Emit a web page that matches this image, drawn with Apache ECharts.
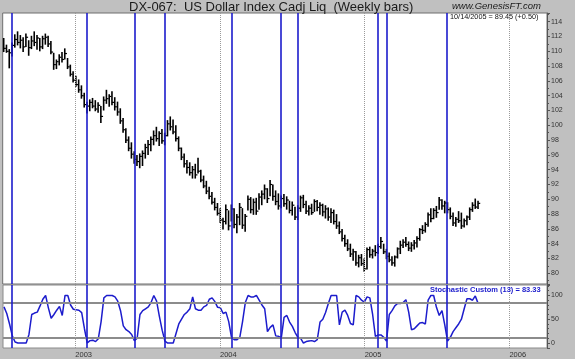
<!DOCTYPE html>
<html>
<head>
<meta charset="utf-8">
<script src="https://cdn.jsdelivr.net/npm/echarts@6/dist/echarts.min.js"></script>
<style>
  html, body { margin: 0; padding: 0; background: #c0c0c0; }
  #chart { width: 575px; height: 359px; }
</style>
</head>
<body>
<div id="chart"></div>
<script>
// ---- data (weekly bars, first bar week ending 2002-07-05) ----
const firstWeek = '2002-07-05';
const highs = [
  111.8,110.9,110.3,111.2,112.3,112.7,112.2,111.9,112.4,111.5,
  112.1,112.7,112.2,111.8,112.1,112.4,112.1,111.4,109.8,108.9,
  109.6,109.9,110.4,109.1,108.2,107.3,106.7,106.2,105.4,104.4,
  103.2,103.5,103.7,103.4,103.1,102.6,103.9,104.8,104.2,104.6,
  103.8,103.2,102.3,101.0,99.6,98.5,97.7,96.5,96.0,96.2,
  96.6,97.5,98.0,98.5,99.3,99.8,99.2,99.5,99.0,100.7,
  101.2,100.8,100.0,98.5,97.0,96.2,95.3,95.0,94.5,94.8,
  95.6,94.0,93.2,92.5,91.7,91.0,90.2,89.5,88.8,87.5,
  89.3,88.5,89.3,88.8,88.0,89.5,88.8,88.0,90.5,90.3,
  90.1,90.2,90.8,91.2,92.0,91.5,92.6,92.0,91.2,90.8,
  90.5,90.7,90.4,89.8,89.7,89.0,89.2,90.5,90.6,89.8,
  89.2,89.4,90.0,89.9,89.6,89.4,89.2,88.9,88.8,88.6,
  88.0,87.0,86.0,85.2,84.6,84.0,83.3,83.0,82.5,82.6,
  82.0,83.5,83.6,83.3,83.8,84.0,84.9,84.0,83.3,82.8,
  82.3,82.4,83.5,84.4,84.6,84.9,84.3,84.2,84.5,85.0,
  86.1,86.5,86.9,88.2,88.8,88.8,89.1,90.3,90.0,89.8,
  89.6,88.9,88.2,87.6,88.4,88.2,87.4,87.8,88.9,89.6,
  90.1,89.8
];
const lows = [
  109.9,109.8,107.7,109.3,110.5,110.8,110.4,109.9,110.6,109.4,
  110.3,110.7,110.2,110.0,110.3,110.9,110.6,109.6,107.5,107.6,
  108.1,108.5,108.9,107.6,106.6,105.8,105.2,104.4,103.6,102.4,
  101.6,101.9,102.3,101.9,101.7,100.3,102.0,102.9,102.5,102.7,
  102.0,101.3,100.2,99.0,97.6,96.5,95.5,94.8,94.5,94.2,
  94.5,95.5,96.0,96.5,97.3,97.8,97.2,97.5,97.3,98.5,
  99.3,98.8,97.8,96.5,95.3,94.3,93.5,93.2,92.8,92.8,
  93.5,92.3,91.5,90.7,90.0,89.3,88.5,87.8,86.8,85.9,
  86.6,85.8,87.0,86.1,85.4,86.5,86.0,85.6,88.5,88.1,
  87.9,87.9,88.6,89.2,90.0,89.5,90.4,89.8,89.2,88.6,
  88.8,89.0,88.6,88.1,87.8,87.2,87.2,88.3,88.8,88.0,
  87.8,87.9,88.3,88.4,87.9,87.7,87.4,87.1,86.8,86.6,
  86.0,85.3,84.3,83.6,83.0,82.2,81.7,81.0,80.8,81.0,
  80.2,80.5,82.1,82.0,82.3,82.6,83.3,82.6,81.9,81.5,
  81.0,80.9,82.0,82.6,83.4,83.6,83.0,82.9,83.2,83.5,
  84.4,85.3,85.5,86.3,86.9,87.3,87.5,88.6,88.6,88.1,
  88.1,87.3,86.4,86.3,86.8,86.0,86.2,86.5,87.2,88.3,
  88.7,88.7
];
const closes = [
  110.4,110.0,109.8,110.8,111.6,111.2,111.5,110.6,111.9,110.5,
  111.4,111.2,111.8,110.6,111.7,111.9,111.0,109.9,108.2,108.6,
  109.2,108.9,109.7,107.9,106.9,106.1,105.5,104.8,104.0,102.8,
  102.6,103.1,102.6,102.2,102.7,101.2,103.4,103.6,103.9,103.1,
  102.5,101.8,100.6,99.4,98.0,96.9,96.1,95.4,95.1,95.8,
  96.2,97.0,97.4,98.1,98.6,98.2,98.9,97.9,98.6,100.2,
  99.8,99.1,98.2,96.9,95.7,94.8,94.3,93.6,94.0,93.3,
  93.8,92.6,91.8,91.1,90.4,89.6,88.9,88.1,87.2,87.0,
  88.6,86.4,88.7,86.6,87.6,88.9,86.5,87.7,90.0,88.6,
  89.6,88.4,90.3,90.7,91.4,90.1,92.0,90.4,89.7,89.1,
  90.1,89.4,89.9,88.5,89.2,87.6,88.8,90.2,89.3,88.4,
  88.8,88.2,89.7,88.9,89.2,88.3,88.7,87.6,88.2,87.0,
  86.4,85.6,84.7,84.0,83.3,82.6,82.9,81.4,82.1,81.3,
  80.6,83.2,82.5,83.0,82.8,83.6,84.3,82.9,82.3,81.8,
  81.4,82.2,83.3,83.8,84.2,83.9,83.4,83.8,84.1,84.7,
  85.9,85.8,86.6,87.9,87.4,88.5,88.2,89.9,89.1,89.5,
  88.6,87.7,86.8,87.3,87.1,86.4,87.1,87.6,88.6,89.2,
  88.95,89.45
];
const stoch = [
  76,62,40,15,2,0,0,0,0,18,
  60,63,65,78,92,100,74,52,60,69,
  77,58,100,100,80,71,70,69,64,30,
  0,5,6,3,9,45,95,100,100,100,
  97,88,68,36,28,24,18,5,10,60,
  68,72,76,85,100,88,56,27,4,0,
  0,0,20,40,50,60,65,72,97,72,
  69,69,76,79,92,95,87,75,74,62,
  65,45,12,7,7,12,45,85,100,97,
  97,100,90,80,72,24,33,38,15,14,
  11,54,58,44,35,22,12,10,0,3,
  4,5,3,7,44,50,64,83,100,100,
  100,38,65,69,58,41,38,100,97,90,
  86,97,95,60,14,17,17,12,4,60,
  68,78,83,83,85,91,65,28,30,36,
  42,43,40,90,100,100,75,58,68,38,
  4,12,24,32,40,50,72,93,93,90,
  99,83.33
];
const signalDates = ['2002-07-26','2003-01-31','2003-05-30','2003-08-15','2004-01-30',
                     '2004-06-04','2004-07-16','2005-02-04','2005-02-25','2005-07-29'];
const yearTicks = [2003, 2004, 2005, 2006];
const stochLevels = [84, 12];
const lastDateLabel = '10/14/2005';

// ---- helpers ----
function addDays(s, n) {
  const d = new Date(s + 'T00:00:00Z');
  d.setUTCDate(d.getUTCDate() + n);
  return d.toISOString().slice(0, 10);
}
function toYear(s) {
  const d = new Date(s + 'T00:00:00Z');
  const y = d.getUTCFullYear();
  const a = Date.UTC(y, 0, 1), b = Date.UTC(y + 1, 0, 1);
  return y + (d.getTime() - a) / (b - a);
}
const weekDates = highs.map((_, i) => addDays(firstWeek, 7 * i));
const xs = weekDates.map(toYear);
const isMult = (v, m) => Math.abs(v / m - Math.round(v / m)) < 1e-6;

const FONT = "'Liberation Sans', Arial, sans-serif";
const BLUE = '#1c1ccc';
const n = closes.length;
const chg = closes[n - 1] - closes[n - 2];
const priceLabel = lastDateLabel + ' = ' + closes[n - 1].toFixed(2) + ' (' + (chg >= 0 ? '+' : '') + chg.toFixed(2) + ')';
const stochLabel = 'Stochastic Custom (13) = ' + stoch[n - 1].toFixed(2);

const yearLines = yearTicks.map(y => ({ xAxis: y, lineStyle: { color: '#9a9a9a', type: 'dotted', width: 1 } }));
const blueLines = signalDates.map(d => ({ xAxis: toYear(d), lineStyle: { color: BLUE, type: 'solid', width: 1.6 } }));
const levelLines = stochLevels.map(v => ({ yAxis: v, lineStyle: { color: '#8c8c8c', type: 'solid', width: 2 } }));

const markCommon = { symbol: ['none', 'none'], silent: true, animation: false, label: { show: false } };

const chart = echarts.init(document.getElementById('chart'), null, { renderer: 'canvas' });
const option = {
  backgroundColor: '#c0c0c0',
  animation: false,
  textStyle: { fontFamily: FONT },
  title: [
    { text: 'DX-067:  US Dollar Index Cadj Liq  (Weekly bars)', left: 129, top: 1, padding: 0,
      textStyle: { fontFamily: FONT, fontSize: 13, fontWeight: 'normal', color: '#1a1a1a' } },
    { text: 'www.GenesisFT.com', left: 452, top: 1, padding: 0,
      textStyle: { fontFamily: FONT, fontSize: 9.5, fontStyle: 'italic', fontWeight: 'normal', color: '#1a1a1a' } },
    { text: priceLabel, left: 450, top: 13.5, padding: 0, z: 10,
      textStyle: { fontFamily: FONT, fontSize: 7.3, fontWeight: 'normal', color: '#111' } },
    { text: stochLabel, left: 430, top: 285.5, padding: 0, z: 10,
      textStyle: { fontFamily: FONT, fontSize: 7.5, fontWeight: 'bold', color: BLUE } }
  ],
  grid: [
    { left: 2.7, right: 28, top: 13, height: 271, show: true, backgroundColor: '#ffffff', borderColor: '#6e6e6e', borderWidth: 1 },
    { left: 2.7, right: 28, top: 285, height: 63.3, show: true, backgroundColor: '#ffffff', borderColor: '#8a8a8a', borderWidth: 1 }
  ],
  xAxis: [
    { gridIndex: 0, type: 'value', min: 2002.5, max: 2006.26, interval: 0.25,
      axisLine: { show: false }, axisTick: { show: false }, axisLabel: { show: false }, splitLine: { show: false } },
    { gridIndex: 1, type: 'value', min: 2002.5, max: 2006.26, interval: 0.25,
      axisLine: { show: false }, axisTick: { show: false }, splitLine: { show: false },
      axisLabel: { show: true, fontSize: 7.5, color: '#333', align: 'left', margin: 3, fontFamily: FONT,
        formatter: v => isMult(v, 1) ? String(Math.round(v)) : '' } }
  ],
  yAxis: [
    { gridIndex: 0, type: 'value', position: 'right', min: 78.55, max: 115.18, splitNumber: 18,
      axisLine: { show: true, lineStyle: { color: '#555' } },
      axisTick: { show: true, length: 3, lineStyle: { color: '#555' } },
      minorTick: { show: true, splitNumber: 2, length: 2, lineStyle: { color: '#555' } },
      splitLine: { show: false },
      axisLabel: { fontSize: 7, color: '#333', margin: 4, fontFamily: FONT,
        formatter: v => isMult(v, 2) ? String(Math.round(v)) : '' } },
    { gridIndex: 1, type: 'value', position: 'right', min: -10.5, max: 122, splitNumber: 3,
      axisLine: { show: true, lineStyle: { color: '#555' } },
      axisTick: { show: true, length: 3, lineStyle: { color: '#555' } },
      minorTick: { show: true, splitNumber: 5, length: 2, lineStyle: { color: '#555' } },
      splitLine: { show: false },
      axisLabel: { fontSize: 7, color: '#333', margin: 4, fontFamily: FONT,
        formatter: v => isMult(v, 50) ? String(Math.round(v)) : '' } }
  ],
  series: [
    { // holder for the top panel reference lines
      type: 'line', xAxisIndex: 0, yAxisIndex: 0, silent: true, symbol: 'none', z: 1,
      data: xs.map((x, i) => [x, closes[i]]), lineStyle: { opacity: 0 },
      markLine: Object.assign({}, markCommon, { data: yearLines.concat(blueLines) })
    },
    {
      name: 'DX', type: 'custom', xAxisIndex: 0, yAxisIndex: 0, z: 3,
      data: xs.map((x, i) => [x, highs[i], lows[i], closes[i]]),
      encode: { x: 0, y: [1, 2, 3] },
      renderItem: function (params, api) {
        const x = api.value(0);
        const pH = api.coord([x, api.value(1)]);
        const pL = api.coord([x, api.value(2)]);
        const pC = api.coord([x, api.value(3)]);
        return { type: 'group', children: [
          { type: 'line', shape: { x1: pH[0], y1: pH[1], x2: pL[0], y2: pL[1] }, style: { stroke: '#000', lineWidth: 1.6 } },
          { type: 'line', shape: { x1: pC[0], y1: pC[1], x2: pC[0] + 2.2, y2: pC[1] }, style: { stroke: '#000', lineWidth: 1.2 } }
        ] };
      }
    },
    {
      name: 'Stochastic', type: 'line', xAxisIndex: 1, yAxisIndex: 1, symbol: 'none', z: 3,
      data: xs.map((x, i) => [x, stoch[i]]),
      lineStyle: { color: BLUE, width: 1.5 },
      markLine: Object.assign({}, markCommon, { data: levelLines.concat(yearLines).concat(blueLines) })
    }
  ]
};
chart.setOption(option);
</script>
</body>
</html>
